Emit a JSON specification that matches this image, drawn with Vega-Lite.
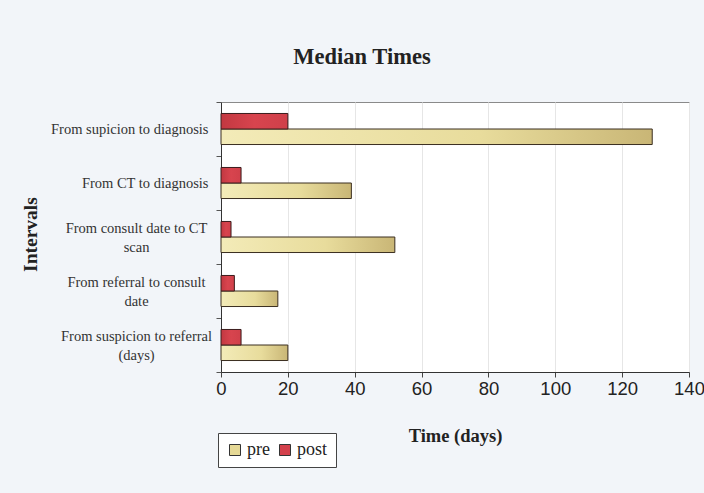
{
  "$schema": "https://vega.github.io/schema/vega-lite/v6.json",
  "autosize": {"type": "none"},
  "width": 468,
  "height": 270,
  "padding": {"left": 221, "top": 102, "right": 15, "bottom": 121},
  "background": "#f2f5f9",
  "title": {
    "text": "Median Times",
    "font": "Liberation Serif",
    "fontSize": 22.5,
    "fontWeight": "bold",
    "color": "#222222",
    "anchor": "middle",
    "frame": "group",
    "dx": -93,
    "offset": 26
  },
  "data": {
    "values": [
      {"interval": "From supicion to diagnosis", "series": "pre", "days": 129},
      {"interval": "From supicion to diagnosis", "series": "post", "days": 20},
      {"interval": "From CT to diagnosis", "series": "pre", "days": 39},
      {"interval": "From CT to diagnosis", "series": "post", "days": 6},
      {"interval": "From consult date to CT|scan", "series": "pre", "days": 52},
      {"interval": "From consult date to CT|scan", "series": "post", "days": 3},
      {"interval": "From referral to consult|date", "series": "pre", "days": 17},
      {"interval": "From referral to consult|date", "series": "post", "days": 4},
      {"interval": "From suspicion to referral|(days)", "series": "pre", "days": 20},
      {"interval": "From suspicion to referral|(days)", "series": "post", "days": 6}
    ]
  },
  "encoding": {
    "y": {
      "field": "interval",
      "type": "nominal",
      "sort": null,
      "scale": {"paddingInner": 0, "paddingOuter": 0},
      "axis": {
        "title": "Intervals",
        "titleFont": "Liberation Serif",
        "titleFontSize": 19.5,
        "titleFontWeight": "bold",
        "titleColor": "#222222",
        "titleX": -191,
        "titleY": 132,
        "titleAngle": -90,
        "titleAlign": "center",
        "titleBaseline": "middle",
        "labelExpr": "split(datum.label, '|')",
        "labelFont": "Liberation Serif",
        "labelFontSize": 14.5,
        "labelColor": "#333333",
        "labelPadding": {"condition": {"test": "length(split('' + datum.value, '|')) > 1", "value": 80}, "value": 8},
        "labelAlign": {"condition": {"test": "length(split('' + datum.value, '|')) > 1", "value": "center"}, "value": "right"},
        "labelLineHeight": 19,
        "labelBaseline": {"condition": {"test": "length(split('' + datum.value, '|')) > 1", "value": "line-bottom"}, "value": "middle"},
        "tickBand": "extent",
        "tickSize": 5,
        "tickColor": "#555555",
        "domainColor": "#333333",
        "grid": false
      }
    },
    "yOffset": {"field": "series", "sort": ["post", "pre"], "scale": {"paddingInner": 0, "paddingOuter": 0.74}},
    "x": {
      "field": "days",
      "type": "quantitative",
      "scale": {"domain": [0, 140], "nice": false},
      "axis": {
        "title": "Time (days)",
        "titleFont": "Liberation Serif",
        "titleFontSize": 18.5,
        "titleFontWeight": "bold",
        "titleColor": "#222222",
        "titlePadding": 29,
        "values": [0, 20, 40, 60, 80, 100, 120, 140],
        "labelFont": "Liberation Sans",
        "labelFontSize": 18.5,
        "labelColor": "#222222",
        "labelPadding": 2,
        "labelFlush": false,
        "labelOverlap": false,
        "tickSize": 5,
        "tickColor": "#444444",
        "domainColor": "#333333",
        "grid": true,
        "gridColor": "#e6e6e6"
      }
    }
  },
  "layer": [
    {
      "transform": [{"filter": "datum.series === 'pre'"}],
      "mark": {
        "type": "bar",
        "stroke": "#3a2e20",
        "strokeWidth": 1,
        "fill": {
          "gradient": "linear",
          "x1": 0, "y1": 0, "x2": 1, "y2": 0,
          "stops": [
            {"offset": 0, "color": "#f3ebb8"},
            {"offset": 0.6, "color": "#e8dc9c"},
            {"offset": 1, "color": "#c9b676"}
          ]
        }
      }
    },
    {
      "transform": [{"filter": "datum.series === 'post'"}],
      "mark": {
        "type": "bar",
        "stroke": "#3a1c1c",
        "strokeWidth": 1,
        "fill": {
          "gradient": "linear",
          "x1": 0, "y1": 0, "x2": 1, "y2": 0,
          "stops": [
            {"offset": 0, "color": "#c23841"},
            {"offset": 0.5, "color": "#d8444e"},
            {"offset": 1, "color": "#d0404a"}
          ]
        }
      }
    },
    {
      "mark": {"type": "bar", "opacity": 0},
      "encoding": {
        "color": {
          "field": "series",
          "type": "nominal",
          "scale": {"domain": ["pre", "post"], "range": ["#e6d996", "#d3404b"]},
          "legend": {
            "title": null,
            "orient": "none",
            "legendX": -3,
            "legendY": 331,
            "direction": "horizontal",
            "symbolType": "square",
            "symbolSize": 121,
            "symbolOpacity": 1,
            "symbolStrokeColor": "#333333",
            "symbolStrokeWidth": 1,
            "labelFont": "Liberation Serif",
            "labelFontSize": 18,
            "labelColor": "#222222",
            "fillColor": "#ffffff",
            "strokeColor": "#444444",
            "padding": 8,
            "columnPadding": 6,
            "labelOffset": 3
          }
        }
      }
    }
  ],
  "config": {
    "view": {"fill": "#ffffff", "stroke": "#8a8a8a", "strokeWidth": 1}
  }
}
